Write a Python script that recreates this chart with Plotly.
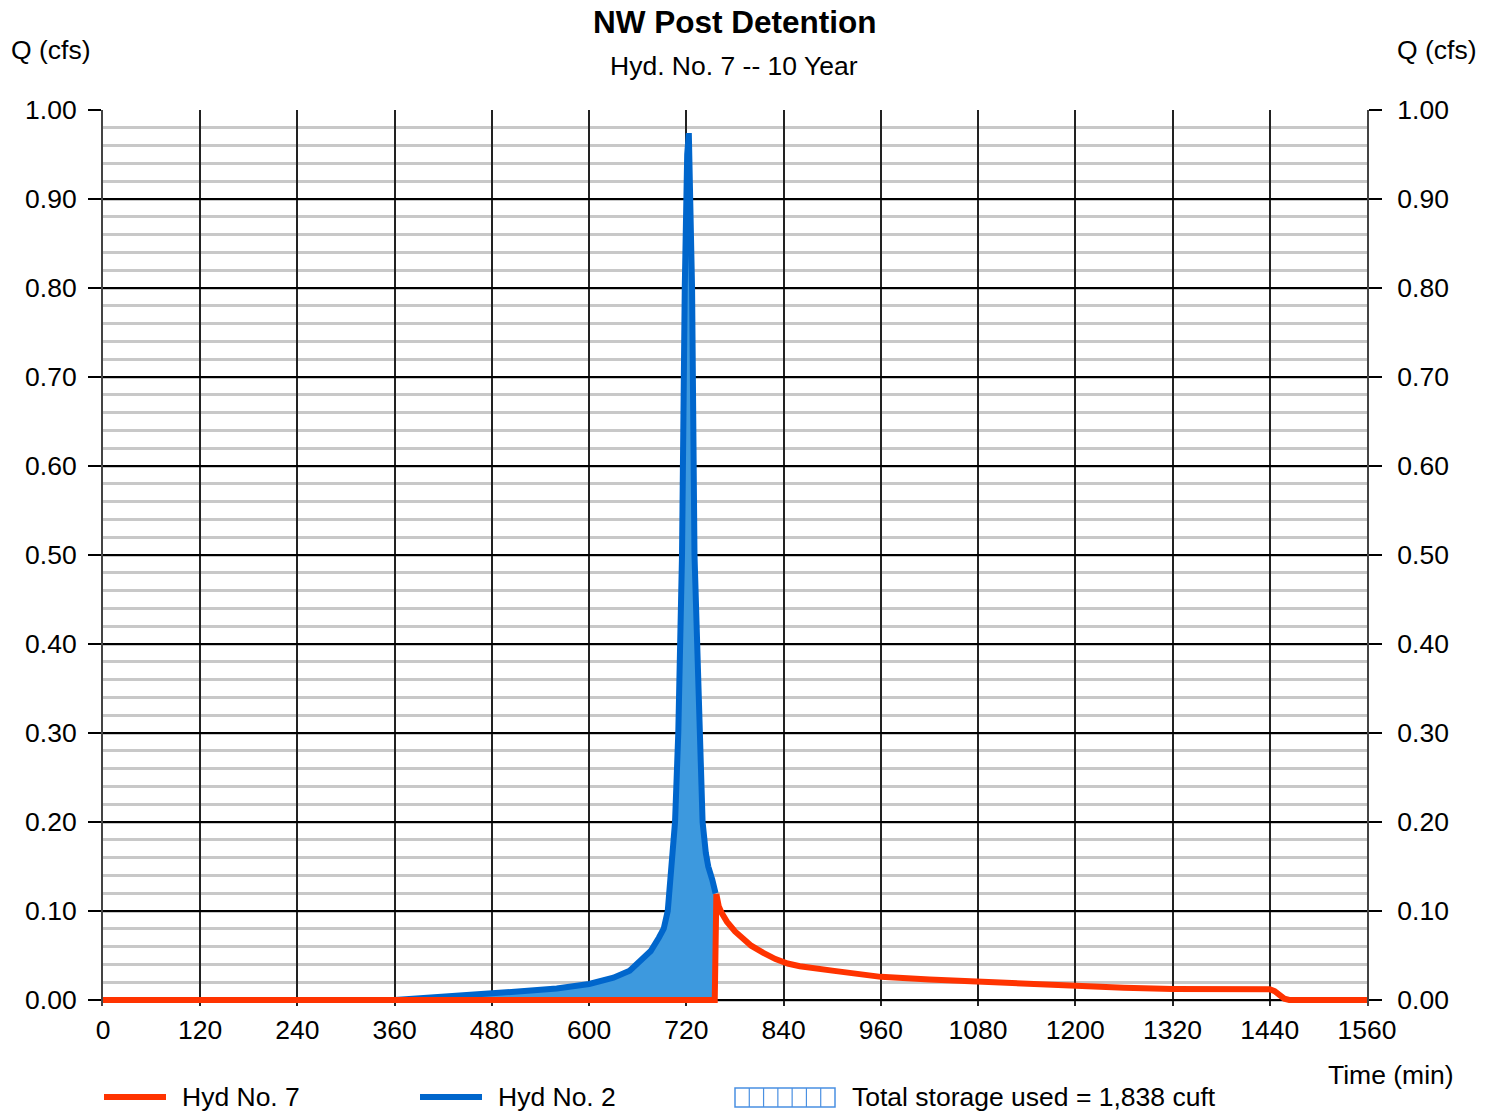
import plotly.graph_objects as go

# Inflow hydrograph (Hyd No. 2): time (min) and flow (cfs)
inflow_t = [360, 400, 440, 480, 520, 560, 600, 630, 650, 664, 676, 686, 692, 697,
            702, 706, 710, 714.6, 718, 719.5, 721, 723, 725, 727, 730, 735.5, 740,
            744, 747, 752, 756]
inflow_q = [0.000, 0.002, 0.004, 0.0075, 0.010, 0.013, 0.018, 0.025, 0.033, 0.045,
            0.055, 0.070, 0.080, 0.100, 0.150, 0.200, 0.300, 0.500, 0.800, 0.900,
            0.950, 0.974, 0.900, 0.800, 0.500, 0.300, 0.200, 0.165, 0.150, 0.135, 0.120]

# Outflow hydrograph (Hyd No. 7)
outflow_t = [0, 755, 757, 760, 764, 770, 780, 790, 800, 815, 830, 845, 860, 900, 960,
             1020, 1080, 1140, 1200, 1260, 1320, 1380, 1440, 1446, 1452, 1458, 1464, 1560]
outflow_q = [0.0, 0.0, 0.119, 0.105, 0.097, 0.088, 0.077, 0.068, 0.061, 0.053, 0.046,
             0.041, 0.038, 0.033, 0.026, 0.023, 0.0205, 0.018, 0.015, 0.0138, 0.0125,
             0.0122, 0.012, 0.010, 0.005, 0.0015, 0.0, 0.0]

x_ticks = list(range(0, 1561, 120))
y_ticks = [i / 10 for i in range(11)]
y_tick_text = [f"{v:.2f}" for v in y_ticks]

title = "NW Post Detention"
subtitle = "Hyd. No. 7 -- 10 Year"
legend_labels = ["Hyd No. 7", "Hyd No. 2", "Total storage used = 1,838 cuft"]

RED = "#FF3300"
BLUE = "#0066CC"
FILL = "#3D99DE"
FONT = "Liberation Sans, Arial, sans-serif"
TXT = 26.5
LW = 6

W, H = 1494, 1112
# plot area extends a few pixels below Q = 0 so the baseline traces are not clipped
PAD = 6
L, R, T, B = 103, 127, 110, 112 - PAD
PW, PH = W - L - R, H - T - B
Y_LOW = -PAD / (PH - PAD)  # one data unit spans PH - PAD pixels


def px_x(p):
    return (p - L) / PW


def px_y(p):
    return (H - B - p) / PH


fig = go.Figure()

fig.add_trace(go.Scatter(
    x=inflow_t, y=inflow_q, mode="lines", fill="tozeroy", fillcolor=FILL,
    line=dict(color=BLUE, width=LW), name=legend_labels[1], showlegend=False,
))
fig.add_trace(go.Scatter(
    x=outflow_t, y=outflow_q, mode="lines",
    line=dict(color=RED, width=LW), name=legend_labels[0], showlegend=False,
))
# invisible trace to carry the right-hand axis
fig.add_trace(go.Scatter(x=[0], y=[0], yaxis="y2", mode="markers",
                         marker=dict(opacity=0), showlegend=False, hoverinfo="skip"))

tick_font = dict(family=FONT, size=TXT, color="black")

fig.update_layout(
    width=W, height=H,
    margin=dict(l=L, r=R, t=T, b=B),
    paper_bgcolor="white", plot_bgcolor="white",
    font=dict(family=FONT, color="black"),
    xaxis=dict(
        range=[0, 1560], tickmode="array", tickvals=x_ticks,
        ticktext=[str(v) for v in x_ticks], tickfont=tick_font,
        showgrid=True, gridcolor="#222222", gridwidth=1.5,
        zeroline=False, showline=False, ticks="", ticklabelstandoff=5,
    ),
    yaxis=dict(
        range=[Y_LOW, 1.0], tickmode="array", tickvals=y_ticks, ticktext=y_tick_text,
        tickfont=tick_font, ticks="outside", ticklen=13, tickcolor="black", tickwidth=1.5,
        ticklabelstandoff=6,
        showgrid=True, gridcolor="black", gridwidth=1.5,
        minor=dict(dtick=0.02, showgrid=True, gridcolor="#C8C8C8", gridwidth=2.5),
        zeroline=True, zerolinecolor="black", zerolinewidth=2,
        showline=True, linecolor="#444444", linewidth=2,
    ),
    yaxis2=dict(
        range=[Y_LOW, 1.0], overlaying="y", side="right", tickmode="array",
        tickvals=y_ticks, ticktext=y_tick_text, tickfont=tick_font,
        ticks="outside", ticklen=13, tickcolor="black", tickwidth=1.5,
        ticklabelstandoff=10,
        showgrid=False, zeroline=False, showline=True, linecolor="#444444", linewidth=2,
    ),
)

ann = [
    dict(text=f"<b>{title}</b>", x=px_x(735), y=px_y(22), font=dict(size=31.5)),
    dict(text=subtitle, x=px_x(733.5), y=px_y(66), font=dict(size=TXT)),
    dict(text="Q (cfs)", x=px_x(51), y=px_y(50), font=dict(size=TXT)),
    dict(text="Q (cfs)", x=px_x(1437), y=px_y(50), font=dict(size=TXT)),
    dict(text="Time (min)", x=px_x(1456), y=px_y(1075), xanchor="right", font=dict(size=TXT)),
    dict(text=legend_labels[0], x=px_x(180), y=px_y(1097), xanchor="left", font=dict(size=TXT)),
    dict(text=legend_labels[1], x=px_x(496), y=px_y(1097), xanchor="left", font=dict(size=TXT)),
    dict(text=legend_labels[2], x=px_x(850), y=px_y(1097), xanchor="left", font=dict(size=TXT)),
]
for a in ann:
    a.setdefault("xanchor", "center")
    fig.add_annotation(xref="paper", yref="paper", yanchor="middle", showarrow=False,
                       font_family=FONT, font_color="black", **a)

shapes = [
    dict(type="line", x0=px_x(104), x1=px_x(166), y0=px_y(1097), y1=px_y(1097),
         line=dict(color=RED, width=LW)),
    dict(type="line", x0=px_x(420), x1=px_x(482), y0=px_y(1097), y1=px_y(1097),
         line=dict(color=BLUE, width=LW)),
    dict(type="rect", x0=px_x(735), x1=px_x(835), y0=px_y(1107), y1=px_y(1088),
         line=dict(color="#4A90E2", width=1.5), fillcolor="white"),
]
for i in range(1, 7):
    xp = 735 + i * 100 / 7
    shapes.append(dict(type="line", x0=px_x(xp), x1=px_x(xp), y0=px_y(1107), y1=px_y(1088),
                       line=dict(color="#4A90E2", width=1.2)))
for s in shapes:
    fig.add_shape(xref="paper", yref="paper", layer="above", **s)

fig.write_html("out.html")
